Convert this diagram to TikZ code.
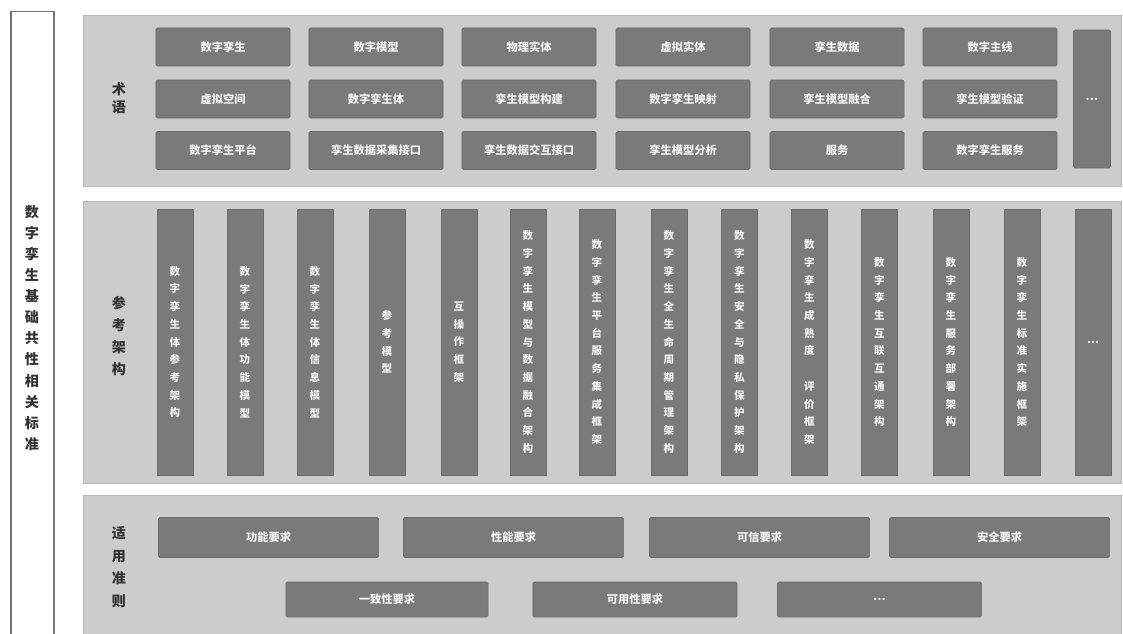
\documentclass[tikz,border=0pt]{standalone}
\usepackage{fontspec}
\setmainfont{Noto Sans CJK SC}
\usepackage{tikz}

\begin{document}
\begin{tikzpicture}[
    x=0.025cm, y=-0.025cm,
    panel/.style={
        draw=black!28,
        fill=black!20,
        minimum width=25.95cm,
        inner sep=0pt
    },
    tag/.style={
        text=black!80,
        align=center,
        font=\fontsize{10}{13}\selectfont\bfseries
    },
    tbox/.style={
        draw=black!58,
        fill=black!52,
        rounded corners=1pt,
        minimum width=3.35cm,
        minimum height=0.95cm,
        inner sep=0pt,
        text=white!95!black,
        font=\fontsize{8}{10}\selectfont\bfseries
    },
    vbox/.style={
        draw=black!58,
        fill=black!52,
        minimum width=0.9cm,
        minimum height=6.65cm,
        inner sep=0pt,
        align=center,
        text=white!95!black,
        font=\fontsize{7.5}{12.6}\selectfont\bfseries
    },
    hbox/.style={
        draw=black!58,
        fill=black!52,
        rounded corners=1pt,
        minimum width=5.5cm,
        minimum height=1cm,
        inner sep=0pt,
        text=white!95!black,
        font=\fontsize{8}{10}\selectfont\bfseries
    }
]
\useasboundingbox[fill=white] (0,0) rectangle (1123,633);

\node[draw=black!55, line width=0.8pt, fill=white, minimum width=1.075cm, minimum height=15.75cm] (base) at (32.5,327) {};
\node[tag, font=\fontsize{10}{15}\selectfont\bfseries] (basetxt) at (32,328) {数\\字\\孪\\生\\基\\础\\共\\性\\相\\关\\标\\准};

\node[panel, minimum height=4.275cm] (term) at (602.5,100.5) {};
\node[panel, minimum height=7.05cm] (arch) at (602.5,342) {};
\node[panel, minimum height=3.7cm] (rule) at (602.5,569) {};

\node[tag] (termtxt) at (119,98) {术\\语};
\node[tag, font=\fontsize{10}{15.5}\selectfont\bfseries] (archtxt) at (119,336) {参\\考\\架\\构};
\node[tag, font=\fontsize{10}{16}\selectfont\bfseries] (ruletxt) at (119,567) {适\\用\\准\\则};

\node[tbox] (t11) at (223,47) {数字孪生};
\node[tbox] (t12) at (376,47) {数字模型};
\node[tbox] (t13) at (529,47) {物理实体};
\node[tbox] (t14) at (683,47) {虚拟实体};
\node[tbox] (t15) at (837,47) {孪生数据};
\node[tbox] (t16) at (990,47) {数字主线};

\node[tbox] (t21) at (223,99) {虚拟空间};
\node[tbox] (t22) at (376,99) {数字孪生体};
\node[tbox] (t23) at (529,99) {孪生模型构建};
\node[tbox] (t24) at (683,99) {数字孪生映射};
\node[tbox] (t25) at (837,99) {孪生模型融合};
\node[tbox] (t26) at (990,99) {孪生模型验证};

\node[tbox] (t31) at (223,150.5) {数字孪生平台};
\node[tbox] (t32) at (376,150.5) {孪生数据采集接口};
\node[tbox] (t33) at (529,150.5) {孪生数据交互接口};
\node[tbox] (t34) at (683,150.5) {孪生模型分析};
\node[tbox] (t35) at (837,150.5) {服务};
\node[tbox] (t36) at (990,150.5) {数字孪生服务};

\node[tbox, minimum width=0.925cm, minimum height=3.45cm] (tmore) at (1092,99) {…};

\node[vbox] (a1) at (175,342) {数\\字\\孪\\生\\体\\参\\考\\架\\构};
\node[vbox] (a2) at (245,342) {数\\字\\孪\\生\\体\\功\\能\\模\\型};
\node[vbox] (a3) at (315,342) {数\\字\\孪\\生\\体\\信\\息\\模\\型};
\node[vbox] (a4) at (387,342) {参\\考\\模\\型};
\node[vbox] (a5) at (459,342) {互\\操\\作\\框\\架};
\node[vbox] (a6) at (528,342) {数\\字\\孪\\生\\模\\型\\与\\数\\据\\融\\合\\架\\构};
\node[vbox] (a7) at (597,342) {数\\字\\孪\\生\\平\\台\\服\\务\\集\\成\\框\\架};
\node[vbox] (a8) at (669,342) {数\\字\\孪\\生\\全\\生\\命\\周\\期\\管\\理\\架\\构};
\node[vbox] (a9) at (739.5,342) {数\\字\\孪\\生\\安\\全\\与\\隐\\私\\保\\护\\架\\构};
\node[vbox] (a10) at (809.5,342) {数\\字\\孪\\生\\成\\熟\\度\\\\评\\价\\框\\架};
\node[vbox] (a11) at (879.5,342) {数\\字\\孪\\生\\互\\联\\互\\通\\架\\构};
\node[vbox] (a12) at (951,342) {数\\字\\孪\\生\\服\\务\\部\\署\\架\\构};
\node[vbox] (a13) at (1022,342) {数\\字\\孪\\生\\标\\准\\实\\施\\框\\架};
\node[vbox] (amore) at (1093,342) {…};

\node[hbox] (r11) at (268.5,537.5) {功能要求};
\node[hbox] (r12) at (513.5,537.5) {性能要求};
\node[hbox] (r13) at (759.5,537.5) {可信要求};
\node[hbox] (r14) at (999.5,537.5) {安全要求};

\node[hbox, minimum width=5.05cm, minimum height=0.875cm] (r21) at (387,599.5) {一致性要求};
\node[hbox, minimum width=5.1cm, minimum height=0.875cm] (r22) at (635,599.5) {可用性要求};
\node[hbox, minimum width=5.1cm, minimum height=0.875cm] (rmore) at (879.5,599.5) {…};

\end{tikzpicture}
\end{document}
